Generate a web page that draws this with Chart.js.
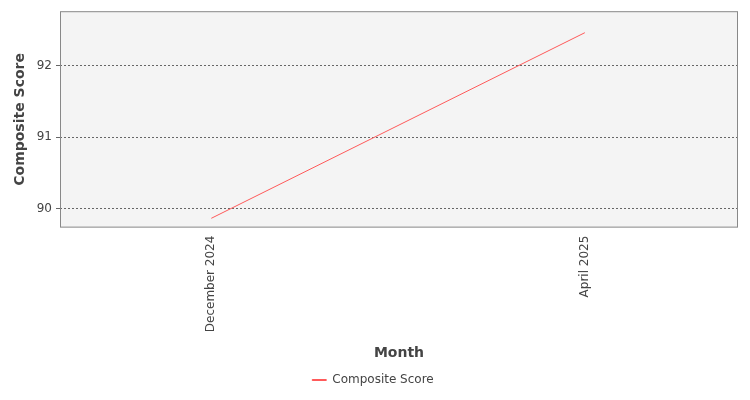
<!DOCTYPE html>
<html><head><script src="https://cdn.jsdelivr.net/npm/chart.js@4"></script>
<style>body{margin:0;background:#fff}#w{width:750px;height:400px}</style></head>
<body><div id="w"><canvas id="c"></canvas></div>
<script>
const categories = ["December 2024", "April 2025"];
const scores = [89.87, 92.46];
const yTicks = [90, 91, 92];
const bg = {id:'bg',beforeDraw(ch){const a=ch.chartArea,x=ch.ctx;x.save();x.fillStyle='#f4f4f4';x.fillRect(a.left,a.top,a.width,a.height);x.restore();},
 afterDraw(ch){const a=ch.chartArea,x=ch.ctx;x.save();x.strokeStyle='#888';x.lineWidth=1;x.strokeRect(a.left+0.5,a.top+0.5,a.width-1,a.height-1);x.restore();}};
new Chart(document.getElementById('c'),{
 type:'line',
 data:{datasets:[{label:'Composite Score',data:scores.map((v,i)=>({x:i,y:v})),borderColor:'#ff5a5a',backgroundColor:'#ff5a5a',borderWidth:1,pointRadius:0,tension:0}]},
 options:{responsive:true,maintainAspectRatio:false,animation:false,
  layout:{padding:{top:5,right:12,left:8,bottom:4}},
  plugins:{legend:{position:'bottom',labels:{font:{family:'DejaVu Sans',size:12},color:'#444',boxWidth:14,boxHeight:1,padding:6}},tooltip:{enabled:false}},
  scales:{
   x:{type:'linear',min:-0.405,max:1.41,afterBuildTicks(s){s.ticks=categories.map((c,i)=>({value:i}));},
    ticks:{callback:(v)=>categories[v],maxRotation:90,minRotation:90,autoSkip:false,font:{family:'DejaVu Sans',size:12},color:'#444'},
    grid:{display:false,drawTicks:true,tickLength:5},border:{display:false},
    title:{display:true,text:'Month',font:{family:'DejaVu Sans',size:14,weight:'bold'},color:'#444',padding:{top:10,bottom:6}}},
   y:{min:89.74,max:92.76,afterBuildTicks(s){s.ticks=yTicks.map(v=>({value:v}));},
    ticks:{font:{family:'DejaVu Sans',size:12},color:'#444',padding:4},
    grid:{color:'#666',tickLength:4,lineWidth:1,drawOnChartArea:true},border:{display:false,dash:[2,2]},
    afterFit(s){s.width=52;},
    title:{display:true,text:'Composite Score',font:{family:'DejaVu Sans',size:14,weight:'bold'},color:'#444'}}
  }},
 plugins:[bg]
});
</script></body></html>
